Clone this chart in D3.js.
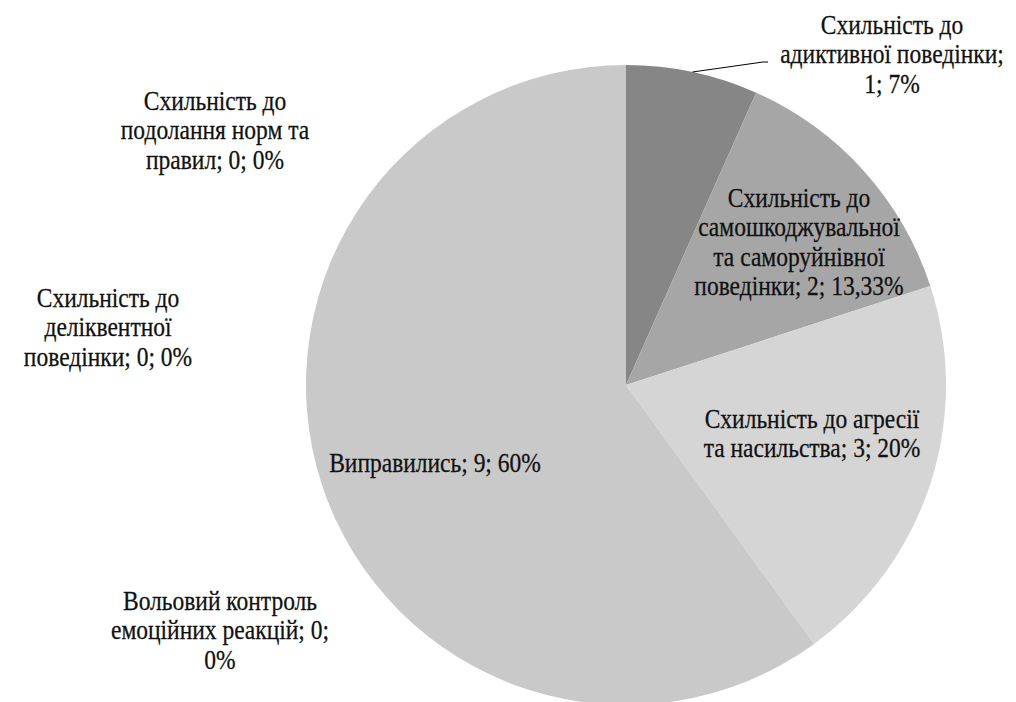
<!DOCTYPE html>
<html>
<head>
<meta charset="utf-8">
<script src="https://cdn.jsdelivr.net/npm/d3@7"></script>
<style>
  html, body { margin: 0; padding: 0; background: #ffffff; }
  svg { display: block; }
  text { font-family: "Liberation Serif", "Times New Roman", serif; fill: #111; stroke: #111; stroke-width: 0.25; }
</style>
</head>
<body>
<svg id="chart" width="1016" height="702"></svg>
<script>
// ---- data ----
const categories = [
  "Схильність до адиктивної поведінки",
  "Схильність до самошкоджувальної та саморуйнівної поведінки",
  "Схильність до агресії та насильства",
  "Виправились",
  "Вольовий контроль емоційних реакцій",
  "Схильність до деліквентної поведінки",
  "Схильність до подолання норм та правил"
];
const values = [1, 2, 3, 9, 0, 0, 0];
const percentLabels = ["7%", "13,33%", "20%", "60%", "0%", "0%", "0%"];
// label text broken into lines as in the picture
const labelLines = [
  ["Схильність до", "адиктивної поведінки;", "1; 7%"],
  ["Схильність до", "самошкоджувальної", "та саморуйнівної", "поведінки; 2; 13,33%"],
  ["Схильність до агресії", "та насильства; 3; 20%"],
  ["Виправились; 9; 60%"],
  ["Вольовий контроль", "емоційних реакцій; 0;", "0%"],
  ["Схильність до", "деліквентної", "поведінки; 0; 0%"],
  ["Схильність до", "подолання норм та", "правил; 0; 0%"]
];

// ---- layout (not data) ----
const cx = 626, cy = 385, R = 320;
const colors = ["#868686", "#a6a6a6", "#d5d5d5", "#c9c9c9", "#c9c9c9", "#c9c9c9", "#c9c9c9"];
// label centre x and first-line baseline y
const labelPos = [
  [892, 34], [799, 207], [812, 428], [435, 472],
  [220, 610], [108, 307], [215, 110]
];
const lineH = 29.5;
const fontSize = 25;
const sx = 0.94, sy = 1.08;

const svg = d3.select("#chart");
const g = svg.append("g").attr("transform", `translate(${cx},${cy})`);

const pie = d3.pie().sort(null).value(d => d).startAngle(0).endAngle(2 * Math.PI);
const arcs = pie(values);
const arc = d3.arc().innerRadius(0).outerRadius(R);

g.selectAll("path.slice")
  .data(arcs)
  .join("path")
  .attr("class", "slice")
  .attr("d", arc)
  .attr("fill", (d, i) => colors[i])
  .attr("stroke", "none");

// leader line for the first slice
const a0 = arcs[0];
const mid = (a0.startAngle + a0.endAngle) / 2;
const pEdge = [R * Math.sin(mid), -R * Math.cos(mid)];
svg.append("polyline")
  .attr("points", [[cx + pEdge[0], cy + pEdge[1]], [763, 62], [768, 62]].map(p => p.join(",")).join(" "))
  .attr("fill", "none")
  .attr("stroke", "#000")
  .attr("stroke-width", 1);

// labels
const lg = svg.append("g");
labelLines.forEach((lines, i) => {
  const t = lg.append("text")
    .attr("text-anchor", "middle")
    .attr("font-size", fontSize)
    .attr("transform", `translate(${labelPos[i][0]},${labelPos[i][1]}) scale(${sx},${sy})`);
  lines.forEach((ln, j) => {
    t.append("tspan").attr("x", 0).attr("y", j * lineH / sy).text(ln);
  });
});
</script>
</body>
</html>
